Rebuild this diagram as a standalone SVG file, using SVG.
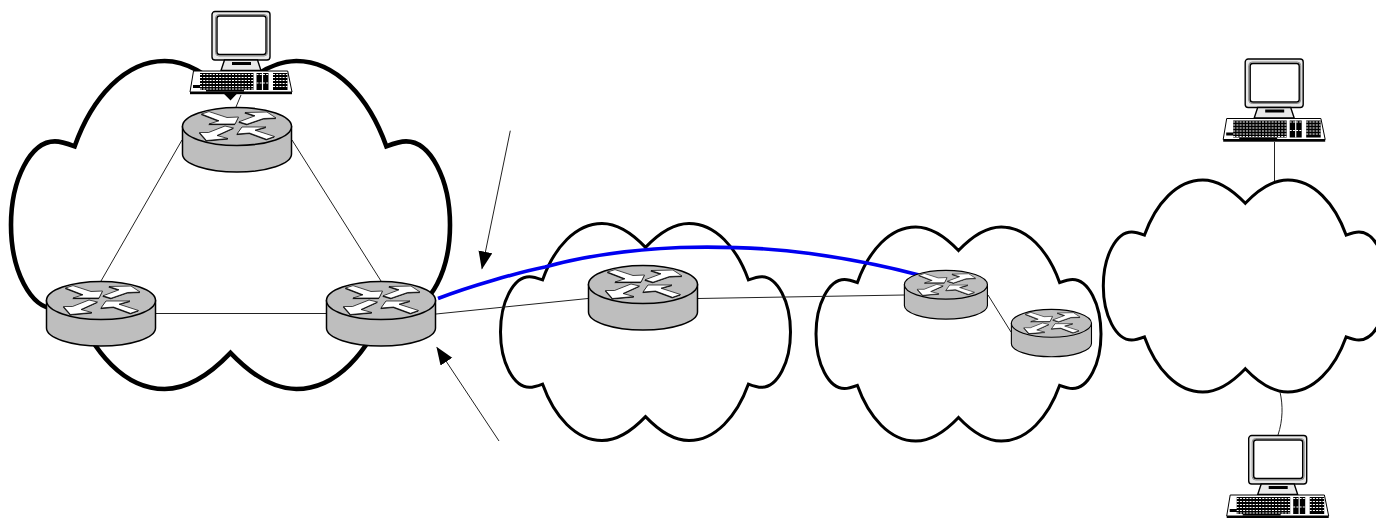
<svg xmlns="http://www.w3.org/2000/svg" width="1376" height="518" viewBox="0 0 1376 518">
<style>
.cloud{fill:none;stroke:#000;stroke-width:3;stroke-linejoin:miter}
.link{fill:none;stroke:#222;stroke-width:1}
.blue{fill:none;stroke:#0000f0;stroke-width:3.6}
.body{fill:#bebebe;stroke:#000;stroke-width:1.5}
.arw{fill:#fff;stroke:#000;stroke-width:.7;stroke-linejoin:miter}
.sh{fill:#000;stroke:#000;stroke-width:.5}
.case{fill:#e9e9e9;stroke:#000;stroke-width:1.4}
.ring{fill:none;stroke:#8a8a8a;stroke-width:1}
.screen{fill:#fff;stroke:#000;stroke-width:1.4}
.kb{fill:#fff;stroke:#000;stroke-width:1}
.key{fill:#000}
.gap{fill:none;stroke:#fff;stroke-width:1.1;stroke-dasharray:2 1.2}
</style>
<defs>
<path id="cloudShape" vector-effect="non-scaling-stroke" d="M0,-78 C-10,-92 -20.5,-100 -30,-100 C-48,-100 -63,-78 -71,-48 C-74,-49.5 -77,-51 -80,-51 C-91,-51 -100,-28 -100,0 C-100,28 -91,51 -80,51 C-77,51 -74,49.5 -71,48 C-63,78 -48,100 -30,100 C-20.5,100 -10,92 0,78 C10,92 20.5,100 30,100 C48,100 63,78 71,48 C74,49.5 77,51 80,51 C91,51 100,28 100,0 C100,-28 91,-51 80,-51 C77,-51 74,-49.5 71,-48 C63,-78 48,-100 30,-100 C20.5,-100 10,-92 0,-78 Z"/>
<path id="arrowSet" d="M19.5,7 L27,4.6 L45,10.5 L56.5,10 L53,17 L27,17 L37,13.8 Z M57,14.8 L65,17.2 L81.5,11.5 L94,11 L85,5 L63,5.5 L73,8.8 Z M51.5,21 L43,19 L26.5,25.5 L17.5,25.5 L24.5,33.5 L46,31.5 L35,28.5 Z M92.5,29.5 L84.5,32.3 L67.5,26 L55,27 L60,20 L84,20 L73,23.2 Z"/>
<g id="router">
<path class="body" d="M0.5,19.5 V47 A54.5,18 0 0 0 109.5,47 V19.5 Z"/>
<ellipse class="body" cx="55" cy="19.5" rx="54.5" ry="19"/>
<use href="#arrowSet" class="sh" transform="translate(-.3,.7)"/>
<use href="#arrowSet" class="arw"/>
</g>
<g id="computer">
<rect class="case" x="22" y="0.5" width="58" height="48.5" rx="3"/>
<rect class="ring" x="25.5" y="3.5" width="52" height="41.5" rx="3.5"/>
<rect class="screen" x="27" y="5" width="49" height="38.5" rx="2.5"/>
<path class="case" d="M34.5,49 H67.5 L71,59.5 H31 Z"/>
<rect class="key" x="42" y="51" width="19" height="3"/>
<path class="kb" d="M3.5,60 H97.7 L102,81 H0 Z"/>
<rect class="key" x="0" y="81" width="102" height="2.2"/>
<rect class="key" x="10" y="62" width="53.5" height="17"/>
<rect class="key" x="66.5" y="62" width="12" height="17"/>
<rect class="key" x="83" y="62" width="14.5" height="17"/>
<rect class="key" x="3" y="74" width="8" height="3"/>
<rect class="key" x="16" y="79" width="38" height="1.6"/>
<path class="gap" d="M10,63.5 H63.5 M66.5,63.5 H78.5 M83,63.5 H97.5 M10,66.5 H63.5 M83,66.5 H97.5 M10,69.5 H63.5 M83,69.5 H97.5 M10,72.5 H63.5 M83,72.5 H97.5 M10,75.5 H63.5 M83,75.5 H97.5 M10,78 H63.5 M66.5,72 H78.5"/>
<path d="M72.5,62 V79" stroke="#fff" stroke-width="1.2" fill="none"/>
</g>
<marker id="head" markerUnits="userSpaceOnUse" markerWidth="19" markerHeight="15" refX="17" refY="7" orient="auto">
<path d="M0,0 L18,7 L0,14 Z" fill="#000"/>
</marker>
</defs>

<g id="clouds">
<g id="cloud1"><use href="#cloudShape" class="cloud" style="stroke-width:4.6" transform="translate(230.5,225) scale(2.195,1.64)"/></g>
<g id="cloud2"><use href="#cloudShape" class="cloud" transform="translate(645.5,332) scale(1.45,1.085)"/></g>
<g id="cloud3"><use href="#cloudShape" class="cloud" transform="translate(958.5,334) scale(1.425,1.07)"/></g>
<g id="cloud4"><use href="#cloudShape" class="cloud" transform="translate(1245.3,286) scale(1.42,1.06)"/></g>
</g>

<g id="connectors">
<path class="link" d="M236,107 L241,95"/>
<path class="link" d="M182,140 L101,281"/>
<path class="link" d="M292,140 L381,281"/>
<path class="link" d="M156,313.5 H326"/>
<path class="link" d="M436,314 L588,298.5"/>
<path class="link" d="M698,298.5 L904,295"/>
<path class="link" d="M988,295 L1011,332"/>
<path class="link" d="M1274.5,142 V181"/>
<path class="link" d="M1280,392 C1283,405 1283,420 1278,435"/>
<path class="blue" d="M438,298.5 C470,286 520,272 545,267 C580,257 625,250 680,247.5 C720,246.5 770,248 810,253.5 C850,259 885,266 919,275"/>
<path class="link" d="M510.3,130.7 L482,268.5" marker-end="url(#head)"/>
<path class="link" d="M499,441 L437,347.5" marker-end="url(#head)"/>
</g>

<g id="router-top"><use href="#router" transform="translate(182,107)"/></g>
<g id="router-left"><use href="#router" transform="translate(46,281)"/></g>
<g id="router-right"><use href="#router" transform="translate(326,281)"/></g>
<g id="router-middle"><use href="#router" transform="translate(588,265)"/></g>
<g id="router-east1"><use href="#router" transform="translate(904,270) scale(.762,.755)"/></g>
<g id="router-east2"><use href="#router" transform="translate(1011,309) scale(.735,.735)"/></g>

<g id="computer-top"><use href="#computer" transform="translate(190,11)"/></g>
<g id="computer-right-top"><use href="#computer" transform="translate(1223.2,58.5)"/></g>
<g id="computer-right-bottom"><use href="#computer" transform="translate(1226.7,435)"/></g>
</svg>
